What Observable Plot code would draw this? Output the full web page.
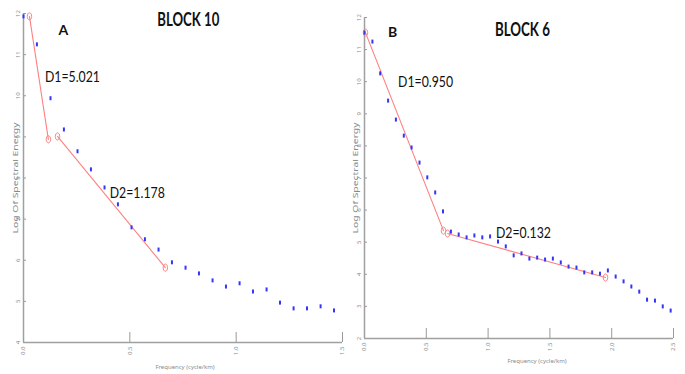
<!DOCTYPE html>
<html>
<head>
<meta charset="utf-8">
<script src="https://cdn.jsdelivr.net/npm/d3@7"></script>
<script src="https://cdn.jsdelivr.net/npm/@observablehq/plot@0.6"></script>
<style>
  html, body { margin: 0; padding: 0; background: #fff; }
  #wrap { position: relative; width: 685px; height: 374px; overflow: hidden; background: #fff; }
  #wrap svg { position: absolute; top: 0; }
</style>
</head>
<body>
<div id="wrap"></div>
<script>
// ---- Panel A: BLOCK 10 ----
const freqA = [0, 0.063, 0.127, 0.19, 0.254, 0.317, 0.381, 0.444, 0.508, 0.571, 0.635, 0.698, 0.762, 0.825, 0.889, 0.952, 1.016, 1.079, 1.143, 1.206, 1.27, 1.333, 1.397, 1.46];
const energyA = [11.93, 11.25, 9.94, 9.18, 8.65, 8.21, 7.77, 7.36, 6.80, 6.51, 6.26, 5.95, 5.82, 5.68, 5.51, 5.36, 5.44, 5.24, 5.29, 4.97, 4.83, 4.83, 4.88, 4.78];
const fitSegA = [1, 1, 2, 2];
const fitXA = [0.028, 0.117, 0.160, 0.667];
const fitYA = [11.93, 8.94, 9.01, 5.82];
const xTicksA = [0, 0.5, 1, 1.5];
const yTicksA = [4, 5, 6, 7, 8, 9, 10, 11, 12];
const labelsA = ["A", "BLOCK 10", "D1=5.021", "D2=1.178"];
const labelXA = [0.188, 0.775, 0.23, 0.535];
const labelYA = [11.59, 11.83, 10.45, 7.65];

// ---- Panel B: BLOCK 6 ----
const freqB = [0, 0.064, 0.127, 0.191, 0.254, 0.318, 0.381, 0.445, 0.508, 0.572, 0.635, 0.699, 0.762, 0.826, 0.889, 0.953, 1.016, 1.08, 1.143, 1.207, 1.27, 1.334, 1.397, 1.461, 1.524, 1.588, 1.651, 1.715, 1.778, 1.842, 1.905, 1.969, 2.032, 2.096, 2.159, 2.223, 2.286, 2.35, 2.413, 2.477];
const energyB = [11.53, 11.25, 10.26, 9.41, 8.82, 8.32, 7.95, 7.48, 7.02, 6.55, 5.96, 5.33, 5.24, 5.15, 5.21, 5.15, 5.18, 5.02, 4.87, 4.59, 4.65, 4.49, 4.52, 4.46, 4.49, 4.37, 4.24, 4.21, 4.06, 4.06, 4.02, 4.12, 3.93, 3.78, 3.62, 3.46, 3.21, 3.18, 3.00, 2.87];
const fitSegB = [1, 1, 2, 2];
const fitXB = [0.008, 0.639, 0.672, 1.95];
const fitYB = [11.53, 5.36, 5.27, 3.90];
const xTicksB = [0, 0.5, 1, 1.5, 2, 2.5];
const yTicksB = [2, 3, 4, 5, 6, 7, 8, 9, 10, 11, 12];
const labelsB = ["B", "BLOCK 6", "D1=0.950", "D2=0.132"];
const labelXB = [0.227, 1.278, 0.494, 1.286];
const labelYB = [11.53, 11.6, 9.98, 5.30];

const yTitle = "Log Of Spectral Energy";
const xTitle = "Frequency (cycle/km)";

// small vertical dash symbol for data points
const dash = { draw(ctx) { ctx.moveTo(-1, -2); ctx.lineTo(1, -2); ctx.lineTo(1, 2); ctx.lineTo(-1, 2); ctx.closePath(); } };
// open ellipse symbol for fit end points
const ell = { draw(ctx) {
  const rx = 2.2, ry = 3.6, k = 0.5523;
  ctx.moveTo(0, -ry);
  ctx.bezierCurveTo(k * rx, -ry, rx, -k * ry, rx, 0);
  ctx.bezierCurveTo(rx, k * ry, k * rx, ry, 0, ry);
  ctx.bezierCurveTo(-k * rx, ry, -rx, k * ry, -rx, 0);
  ctx.bezierCurveTo(-rx, -k * ry, -k * rx, -ry, 0, -ry);
  ctx.closePath();
} };

const labFont = "Lato, sans-serif";

function fitText(svg, cls, lenFn) {
  svg.querySelectorAll(`g.${cls} text`).forEach(t => {
    t.setAttribute("textLength", lenFn(t.textContent));
    t.setAttribute("lengthAdjust", "spacingAndGlyphs");
  });
}

function panel(cfg) {
  const pts = cfg.freq.map((f, i) => ({ x: f, y: cfg.energy[i] }));
  const fit = cfg.fitX.map((f, i) => ({ x: f, y: cfg.fitY[i], seg: cfg.fitSeg[i] }));
  const labs = cfg.labels.map((t, i) => ({ t, x: cfg.labelX[i], y: cfg.labelY[i] }));
  const svg = Plot.plot({
    width: cfg.width, height: 374,
    marginLeft: cfg.ml, marginRight: cfg.mr, marginTop: cfg.mt, marginBottom: cfg.mb,
    style: { background: "transparent", overflow: "visible" },
    x: { domain: cfg.xDomain },
    y: { domain: cfg.yDomain },
    marks: [
      Plot.axisX({ ticks: cfg.xTicks, tickSize: -10, tickPadding: 14, tickRotate: -90, fontSize: 6, color: "#8a8a8a", stroke: "#9a9a9a", label: null }),
      Plot.axisY({ ticks: cfg.yTicks, tickSize: -3, tickPadding: 7, tickRotate: -90, fontSize: 6, color: "#8a8a8a", stroke: "#9a9a9a", label: null }),
      Plot.ruleX([cfg.xDomain[0]], { stroke: "#a0a0a0", strokeWidth: 1.5 }),
      Plot.ruleY([cfg.yDomain[0]], { stroke: "#a0a0a0", strokeWidth: 1.5 }),
      Plot.line(fit, { x: "x", y: "y", z: "seg", stroke: "#ff8080", strokeWidth: 1.1 }),
      Plot.dot(fit, { x: "x", y: "y", symbol: ell, r: 3, stroke: "#ff8080", strokeWidth: 1, fill: "none" }),
      Plot.dot(pts, { x: "x", y: "y", symbol: dash, r: 3, fill: "#3535f5", stroke: "none" }),
      Plot.text([yTitle], { text: d => d, frameAnchor: "left", textAnchor: "middle", rotate: -90, dx: cfg.ytdx, fontSize: 6.5, fill: "#8a8a8a", className: "ytitle" }),
      Plot.text([xTitle], { text: d => d, frameAnchor: "bottom", dy: cfg.xtdy, dx: cfg.xtdx, fontSize: 6, fill: "#8a8a8a" }),
      Plot.text(labs.filter(d => !d.t.startsWith("D") && d.t.length > 1), { x: "x", y: "y", text: "t", fontWeight: "bold", fontSize: 18, fill: "#111", fontFamily: labFont, className: "blab" }),
      Plot.text(labs.filter(d => d.t.length === 1), { x: "x", y: "y", text: "t", fontWeight: "bold", fontSize: 14, fill: "#111", fontFamily: labFont }),
      Plot.text(labs.filter(d => d.t.startsWith("D")), { x: "x", y: "y", text: "t", fontSize: 16, fill: "#111", fontFamily: labFont, className: "dlab" })
    ]
  });
  fitText(svg, "dlab", () => 55);
  fitText(svg, "blab", s => s.length > 7 ? 62 : 55);
  fitText(svg, "ytitle", () => 111);
  svg.style.left = cfg.left + "px";
  return svg;
}

const wrap = document.getElementById("wrap");
wrap.appendChild(panel({
  left: 0, width: 350, ml: 23, mr: 8, mt: 13, mb: 32,
  xDomain: [0, 1.5], yDomain: [4, 12],
  freq: freqA, energy: energyA, fitX: fitXA, fitY: fitYA, fitSeg: fitSegA,
  xTicks: xTicksA, yTicks: yTicksA,
  labels: labelsA, labelX: labelXA, labelY: labelYA,
  ytdx: -8, xtdy: 26, xtdx: 2
}));
wrap.appendChild(panel({
  left: 340, width: 345, ml: 24, mr: 12, mt: 17, mb: 36,
  xDomain: [0, 2.5], yDomain: [2, 12],
  freq: freqB, energy: energyB, fitX: fitXB, fitY: fitYB, fitSeg: fitSegB,
  xTicks: xTicksB, yTicks: yTicksB,
  labels: labelsB, labelX: labelXB, labelY: labelYB,
  ytdx: -9, xtdy: 24, xtdx: 18
}));
</script>
</body>
</html>
